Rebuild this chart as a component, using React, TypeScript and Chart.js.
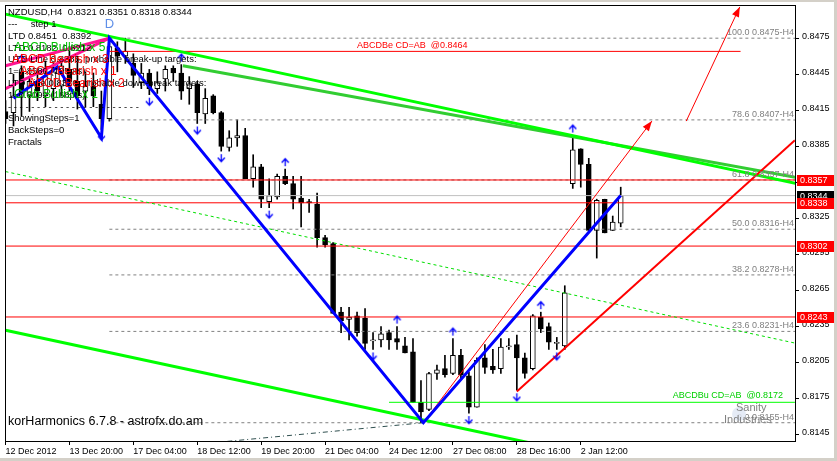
import React, { useEffect, useRef } from 'react';
import { Chart, registerables } from 'chart.js';

Chart.register(...registerables);

const FONT = "'Liberation Sans', Arial, sans-serif";

// ---------- OHLC data (NZDUSD H4) ----------
const opens = [
  0.8414, 0.8413, 0.8447, 0.8427, 0.8439, 0.8427, 0.8433, 0.8435, 0.8449, 0.8439,
  0.8431, 0.8435, 0.8420, 0.8408, 0.8467, 0.8460, 0.8454, 0.8438, 0.8446, 0.8433,
  0.8441, 0.8450, 0.8446, 0.8433, 0.8437, 0.8412, 0.8427, 0.8413, 0.8384, 0.8392,
  0.8394, 0.8358, 0.8368, 0.8339, 0.8343, 0.8360, 0.8354, 0.8342, 0.8339, 0.8337,
  0.8309, 0.8304, 0.8247, 0.8241, 0.8244, 0.8242, 0.8223, 0.8224, 0.8230, 0.8225,
  0.8219, 0.8214, 0.8172, 0.8166, 0.8196, 0.8200, 0.8196, 0.8211, 0.8194, 0.8168,
  0.8209, 0.8202, 0.8200, 0.8218, 0.8220, 0.8209, 0.8200, 0.8243, 0.8235, 0.8221,
  0.8219, 0.8354, 0.8383, 0.8370, 0.8315, 0.8341, 0.8315, 0.8321,
];
const highs = [
  0.8423, 0.8445, 0.8452, 0.8443, 0.8449, 0.8456, 0.8454, 0.8457, 0.8468, 0.8460,
  0.8447, 0.8446, 0.8431, 0.8475, 0.8472, 0.8475, 0.8462, 0.8454, 0.8449, 0.8447,
  0.8452, 0.8452, 0.8453, 0.8443, 0.8439, 0.8433, 0.8428, 0.8414, 0.8398, 0.8407,
  0.8400, 0.8378, 0.8370, 0.8358, 0.8362, 0.8366, 0.8360, 0.8360, 0.8341, 0.8346,
  0.8311, 0.8305, 0.8251, 0.8251, 0.8247, 0.8250, 0.8230, 0.8235, 0.8232, 0.8235,
  0.8226, 0.8225, 0.8190, 0.8197, 0.8203, 0.8211, 0.8225, 0.8216, 0.8197, 0.8209,
  0.8220, 0.8216, 0.8225, 0.8225, 0.8228, 0.8213, 0.8245, 0.8247, 0.8238, 0.8226,
  0.8269, 0.8394, 0.8383, 0.8375, 0.8341, 0.8341, 0.8327, 0.8351,
];
const lows = [
  0.8404, 0.8402, 0.8410, 0.8414, 0.8423, 0.8418, 0.8423, 0.8427, 0.8431, 0.8416,
  0.8418, 0.8418, 0.8399, 0.8406, 0.8447, 0.8454, 0.8434, 0.8433, 0.8428, 0.8429,
  0.8431, 0.8439, 0.8424, 0.8420, 0.8404, 0.8404, 0.8412, 0.8381, 0.8381, 0.8385,
  0.8358, 0.8351, 0.8334, 0.8334, 0.8341, 0.8353, 0.8333, 0.8318, 0.8330, 0.8301,
  0.8301, 0.8246, 0.8230, 0.8224, 0.8227, 0.8216, 0.8216, 0.8218, 0.8216, 0.8216,
  0.8213, 0.8172, 0.8155, 0.8165, 0.8191, 0.8193, 0.8195, 0.8191, 0.8163, 0.8168,
  0.8196, 0.8196, 0.8196, 0.8216, 0.8182, 0.8192, 0.8199, 0.8230, 0.8216, 0.8216,
  0.8216, 0.8350, 0.8351, 0.8315, 0.8292, 0.8313, 0.8315, 0.8318,
];
const closes = [
  0.8408, 0.8427, 0.8429, 0.8439, 0.8431, 0.8443, 0.8447, 0.8452, 0.8439, 0.8427,
  0.8435, 0.8427, 0.8408, 0.8468, 0.8460, 0.8464, 0.8444, 0.8446, 0.8433, 0.8438,
  0.8449, 0.8446, 0.8431, 0.8437, 0.8413, 0.8425, 0.8413, 0.8385, 0.8392, 0.8394,
  0.8358, 0.8368, 0.8341, 0.8344, 0.8360, 0.8354, 0.8341, 0.8338, 0.8338, 0.8309,
  0.8303, 0.8246, 0.8240, 0.8243, 0.8230, 0.8221, 0.8224, 0.8229, 0.8224, 0.8222,
  0.8213, 0.8172, 0.8164, 0.8196, 0.8199, 0.8195, 0.8211, 0.8195, 0.8168, 0.8207,
  0.8201, 0.8199, 0.8218, 0.8219, 0.8209, 0.8196, 0.8244, 0.8233, 0.8222, 0.8222,
  0.8263, 0.8382, 0.8370, 0.8315, 0.8340, 0.8313, 0.8322, 0.8344,
];

// ---------- axes ----------
const xTickIdx = [0, 8, 16, 24, 32, 40, 48, 56, 64, 72];
const xTickLabels = [
  '12 Dec 2012', '13 Dec 20:00', '17 Dec 04:00', '18 Dec 12:00', '19 Dec 20:00',
  '21 Dec 04:00', '24 Dec 12:00', '27 Dec 08:00', '28 Dec 16:00', '2 Jan 12:00',
];
const yTicks = [0.8475, 0.8445, 0.8415, 0.8385, 0.8355, 0.8325, 0.8295, 0.8265, 0.8235, 0.8205, 0.8175, 0.8145];
const X_MIN = -0.0625;
const X_MAX = 98.8125;
const Y_MIN = 0.81398;
const Y_MAX = 0.85026;

// ---------- levels ----------
const redLevels = [0.8357, 0.8338, 0.8302, 0.8243];
const currentPrice = 0.8344;
const fibStart = 13;
const fibLevels = [0.8475, 0.8407, 0.8357, 0.8316, 0.8278, 0.8231, 0.8155];
const fibNames = ['100.0', '78.6', '61.8', '50.0', '38.2', '23.6', '0.0'];
const bearTarget = 0.8464;
const bearTargetX = [13, 92];
const bullTarget = 0.8172;
const bullTargetX = [48, 98.8];

// ---------- drawn objects ----------
const upperChannelX = [0, 99];
const upperChannelY = [0.8495, 0.8354];
const innerChannelX = [22.2, 99];
const innerChannelY = [0.8452, 0.8359];
const lowerChannelX = [0, 70];
const lowerChannelY = [0.8232, 0.8132];
const dottedTrendX = [0, 99];
const dottedTrendY = [0.8364, 0.8221];
const zigzagX = [1, 6.5, 12, 13, 52.3, 77];
const zigzagY = [0.8425, 0.8451, 0.8392, 0.8475, 0.8155, 0.8344];
const pinkAX = [0, 13];
const pinkAY = [0.8433, 0.8475];
const pinkBX = [0, 13];
const pinkBY = [0.8452, 0.8475];
const projArrow1X = [52.3, 80.9];
const projArrow1Y = [0.8155, 0.8406];
const projArrow2X = [85.2, 91.9];
const projArrow2Y = [0.8406, 0.8501];
const supportLineX = [64, 98.8];
const supportLineY = [0.8181, 0.8390];
const dashedLegX = [52.3, 27];
const dashedLegY = [0.8155, 0.8139];
const fractalUp = [2, 22, 35, 49, 56, 67, 71];
const fractalDown = [12, 18, 24, 27, 33, 46, 58, 64, 69];

const infoLines = [
  'NZDUSD,H4  0.8321 0.8351 0.8318 0.8344',
  '---     step 1',
  'LTD 0.8451  0.8392',
  'LTD 0.8182  0.8212',
  'UTD Line 0.8385, probable break-up targets:',
  '1=0.8580 (195pts)',
  'LTD Line 0.8326, probable down-break targets:',
  '1=0.8092 (168pts)',
  '- - - - - - - - - - - - - - - - - - - - - - -',
  'ShowingSteps=1',
  'BackSteps=0',
  'Fractals',
];
const patternLabels = ['ABCD Bullish x 5', 'ABCD Bearish x 3', 'ABCD Bearish x 1', 'ABCD Bearish x 2', 'Crab Bullish x 1'];
const patternColors = ['#00c000', '#ff0000', '#ff0000', '#ff0000', '#00c000'];

function makeArrow(dir: 'up' | 'down') {
  const c = document.createElement('canvas');
  c.width = 9;
  c.height = 26;
  const g = c.getContext('2d')!;
  g.strokeStyle = '#0000ff';
  g.lineWidth = 1.3;
  g.beginPath();
  if (dir === 'down') {
    g.moveTo(4.5, 16); g.lineTo(4.5, 23);
    g.moveTo(1, 19.5); g.lineTo(4.5, 23.5); g.lineTo(8, 19.5);
  } else {
    g.moveTo(4.5, 10); g.lineTo(4.5, 3);
    g.moveTo(1, 6.5); g.lineTo(4.5, 2.5); g.lineTo(8, 6.5);
  }
  g.stroke();
  return c;
}

function lineDs(xs: number[], ys: number[], color: string, width: number, extra: any = {}) {
  return {
    type: 'line',
    data: xs.map((x, i) => ({ x, y: ys[i] })),
    borderColor: color,
    backgroundColor: color,
    borderWidth: width,
    pointRadius: 0,
    fill: false,
    tension: 0,
    clip: 0,
    order: 3,
    ...extra,
  };
}

const arrowPlugin = {
  id: 'arrowheads',
  afterDatasetsDraw(chart: any) {
    const ctx = chart.ctx;
    chart.data.datasets.forEach((ds: any, di: number) => {
      if (!ds.arrowHead) return;
      const pts = chart.getDatasetMeta(di).data;
      const a = pts[pts.length - 2];
      const b = pts[pts.length - 1];
      const ang = Math.atan2(b.y - a.y, b.x - a.x);
      const L = ds.arrowHead;
      const w = L * 0.38;
      const bx = b.x - L * Math.cos(ang);
      const by = b.y - L * Math.sin(ang);
      ctx.save();
      ctx.fillStyle = ds.borderColor;
      ctx.beginPath();
      ctx.moveTo(b.x, b.y);
      ctx.lineTo(bx + w * Math.sin(ang), by - w * Math.cos(ang));
      ctx.lineTo(bx - w * Math.sin(ang), by + w * Math.cos(ang));
      ctx.closePath();
      ctx.fill();
      ctx.restore();
    });
  },
};

const annotationPlugin = {
  id: 'annotations',
  beforeDraw(chart: any) {
    const ctx = chart.ctx;
    ctx.save();
    ctx.fillStyle = '#ffffff';
    ctx.fillRect(0, 0, chart.width, chart.height);
    ctx.restore();
  },
  afterDraw(chart: any) {
    const ctx = chart.ctx;
    const xs = chart.scales.x;
    const ys = chart.scales.y;
    const area = chart.chartArea;
    ctx.save();
    // plot frame
    ctx.strokeStyle = '#000';
    ctx.lineWidth = 1;
    ctx.strokeRect(area.left + 0.5, area.top + 0.5, area.right - area.left, area.bottom - area.top);

    // fib labels
    ctx.font = `9px ${FONT}`;
    ctx.fillStyle = '#808080';
    ctx.textAlign = 'right';
    ctx.textBaseline = 'bottom';
    fibLevels.forEach((lv, i) => {
      ctx.fillText(`${fibNames[i]} ${lv.toFixed(4)}-H4`, area.right - 1, ys.getPixelForValue(lv) - 1);
    });

    // target labels
    ctx.textAlign = 'left';
    ctx.font = `9px ${FONT}`;
    ctx.fillStyle = '#ff0000';
    ctx.fillText(`ABCDBe CD=AB  @${bearTarget.toFixed(4)}`, xs.getPixelForValue(44), ys.getPixelForValue(bearTarget) - 1);
    ctx.fillStyle = '#00d000';
    ctx.fillText(`ABCDBu CD=AB  @${bullTarget.toFixed(4)}`, xs.getPixelForValue(83.5), ys.getPixelForValue(bullTarget) - 2);

    // info block
    ctx.textBaseline = 'middle';
    ctx.font = `9.5px ${FONT}`;
    ctx.fillStyle = '#000';
    infoLines.forEach((t, i) => ctx.fillText(t, 8, 12.5 + i * 11.8));
    ctx.font = `12px ${FONT}`;
    const pRows = [3, 4, 5, 6, 7];
    const pX = [14, 12, 20, 28, 14];
    patternLabels.forEach((t, i) => {
      ctx.fillStyle = patternColors[i];
      ctx.fillText(t, pX[i], 12.5 + pRows[i] * 11.8);
    });
    ctx.fillStyle = '#5f8fe8';
    ctx.font = `13px ${FONT}`;
    ctx.textAlign = 'center';
    ctx.fillText('D', xs.getPixelForValue(13), 24);

    // bottom-left brand
    ctx.textAlign = 'left';
    ctx.fillStyle = '#000';
    ctx.font = `12.5px ${FONT}`;
    ctx.fillText('korHarmonics 6.7.8 - astrofx.do.am', 8, 422);

    // logo
    ctx.fillStyle = 'rgba(225,232,245,0.85)';
    ctx.beginPath();
    ctx.arc(739, 414, 7, 0, Math.PI * 2);
    ctx.fill();
    ctx.fillStyle = '#7f7f7f';
    ctx.font = `11px ${FONT}`;
    ctx.textAlign = 'left';
    ctx.fillText('Sanity', 736, 408);
    ctx.fillText('Industries', 724, 420);

    // price boxes on the axis (current price first, level boxes on top)
    ctx.font = `9px ${FONT}`;
    const box = (p: number, bg: string) => {
      const y = ys.getPixelForValue(p);
      ctx.fillStyle = bg;
      ctx.fillRect(797, Math.round(y) - 5, 37, 11);
      ctx.fillStyle = '#fff';
      ctx.textAlign = 'left';
      ctx.fillText(p.toFixed(4), 800, Math.round(y) + 0.5);
    };
    box(currentPrice, '#000000');
    redLevels.forEach((lv) => box(lv, '#ff0000'));

    // window frame
    ctx.fillStyle = '#d4d0c8';
    ctx.fillRect(0, 0, chart.width, 2);
    ctx.fillRect(chart.width - 3, 0, 3, chart.height);
    ctx.fillRect(0, chart.height - 3, chart.width, 3);
    ctx.restore();
  },
};

export default function App() {
  const ref = useRef<HTMLCanvasElement>(null);
  useEffect(() => {
    document.body.style.margin = '0';
    const bars = opens.map((_, i) => i);
    const upImg = makeArrow('up');
    const downImg = makeArrow('down');
    const full = [X_MIN, X_MAX];
    const datasets: any[] = [
      {
        type: 'line',
        data: fractalUp.map((i) => ({ x: i, y: highs[i] })),
        showLine: false,
        pointStyle: upImg,
        pointRadius: 4,
        clip: 0,
        order: 0,
      },
      {
        type: 'line',
        data: fractalDown.map((i) => ({ x: i, y: lows[i] })),
        showLine: false,
        pointStyle: downImg,
        pointRadius: 4,
        clip: 0,
        order: 0,
      },
      lineDs(zigzagX, zigzagY, '#0000ff', 3, { order: 1 }),
      lineDs(pinkAX, pinkAY, '#ff1493', 3, { order: 2 }),
      lineDs(pinkBX, pinkBY, '#ff1493', 3, { order: 2 }),
      lineDs(projArrow1X, projArrow1Y, '#ff0000', 1, { order: 1, arrowHead: 10 }),
      lineDs(projArrow2X, projArrow2Y, '#ff0000', 1, { order: 1, arrowHead: 10 }),
      lineDs(supportLineX, supportLineY, '#ff0000', 2, { order: 1 }),
      lineDs(dashedLegX, dashedLegY, '#2f4f4f', 1, { order: 2, borderDash: [5, 3, 1, 3] }),
      lineDs(upperChannelX, upperChannelY, '#00ff00', 3),
      lineDs(innerChannelX, innerChannelY, '#32cd32', 3),
      lineDs(lowerChannelX, lowerChannelY, '#00ff00', 3),
      lineDs(dottedTrendX, dottedTrendY, '#00e000', 1, { borderDash: [3, 3] }),
      lineDs(bullTargetX, [bullTarget, bullTarget], '#00ff00', 1, { order: 4 }),
      lineDs(bearTargetX, [bearTarget, bearTarget], '#ff0000', 1, { order: 4 }),
      ...redLevels.map((lv) => lineDs(full, [lv, lv], '#ff0000', 1, { order: 4 })),
      lineDs(full, [currentPrice, currentPrice], '#c0c0c0', 1, { order: 5 }),
      ...fibLevels.map((lv) => lineDs([fibStart, X_MAX], [lv, lv], '#808080', 1, { order: 6, borderDash: [3, 3] })),
      {
        type: 'bar',
        data: bars.map((i) => ({ x: i, y: [lows[i], highs[i]] })),
        backgroundColor: '#000',
        borderWidth: 0,
        barThickness: 1,
        grouped: false,
        order: 20,
      },
      {
        type: 'bar',
        data: bars.map((i) => ({ x: i, y: [opens[i], closes[i]] })),
        backgroundColor: bars.map((i) => (closes[i] > opens[i] ? '#ffffff' : '#000000')),
        borderColor: '#000',
        borderWidth: 1,
        borderSkipped: false,
        barThickness: 5,
        minBarLength: 1,
        grouped: false,
        order: 19,
      },
    ];

    const chart = new Chart(ref.current!, {
      type: 'bar',
      data: { datasets },
      options: {
        responsive: false,
        animation: false,
        devicePixelRatio: 1,
        layout: { padding: { left: 4, top: 3, right: 0, bottom: 0 } },
        plugins: { legend: { display: false }, tooltip: { enabled: false } },
        scales: {
          x: {
            type: 'linear',
            min: X_MIN,
            max: X_MAX,
            offset: false,
            grid: { offset: false, drawOnChartArea: false, drawTicks: true, tickLength: 4, color: '#000' },
            border: { display: true, color: '#000' },
            ticks: {
              autoSkip: false,
              maxRotation: 0,
              align: 'start',
              padding: 1,
              color: '#000',
              font: { family: FONT, size: 9 },
              callback: (v: any) => {
                const k = xTickIdx.indexOf(Number(v));
                return k >= 0 ? xTickLabels[k] : '';
              },
            },
            afterBuildTicks: (s: any) => {
              s.ticks = xTickIdx.map((v) => ({ value: v }));
            },
            afterFit: (s: any) => {
              s.height = 20;
              s.paddingLeft = 0;
              s.paddingRight = 0;
            },
          },
          y: {
            type: 'linear',
            position: 'right',
            min: Y_MIN,
            max: Y_MAX,
            grid: { drawOnChartArea: false, drawTicks: true, tickLength: 4, color: '#000' },
            border: { display: true, color: '#000' },
            ticks: {
              padding: 3,
              color: '#000',
              labelOffset: -2,
              font: { family: FONT, size: 9 },
              callback: (v: any) => Number(v).toFixed(4),
            },
            afterBuildTicks: (s: any) => {
              s.ticks = yTicks.map((v) => ({ value: v }));
            },
            afterFit: (s: any) => {
              s.width = 42;
              s.paddingTop = 0;
              s.paddingBottom = 0;
            },
          },
        },
      } as any,
      plugins: [arrowPlugin, annotationPlugin],
    });
    return () => chart.destroy();
  }, []);
  return <canvas ref={ref} width={837} height={461} style={{ display: 'block' }} />;
}
